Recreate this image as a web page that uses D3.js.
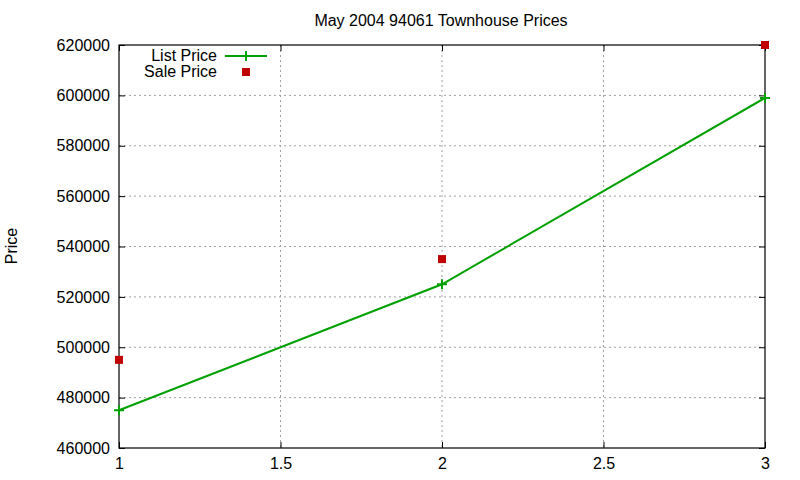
<!DOCTYPE html>
<html>
<head>
<meta charset="utf-8">
<script src="https://cdn.jsdelivr.net/npm/d3@7"></script>
<style>
  body { margin: 0; background: #fff; }
  text { font-family: "Liberation Sans", Arial, sans-serif; font-size: 16px; fill: #000; }
</style>
</head>
<body>
<div id="chart"></div>
<script>
// data
const xVals = [1, 2, 3];
const listPrice = [475000, 525000, 599000];
const salePrice = [495000, 535000, 620000];
const xTicks = [1, 1.5, 2, 2.5, 3];
const yTicks = [460000, 480000, 500000, 520000, 540000, 560000, 580000, 600000, 620000];

const margin = { top: 45, right: 35, bottom: 32, left: 119 };
const W = 800, H = 480;
const width = W - margin.left - margin.right,
    height = H - margin.top - margin.bottom;

const svg = d3.select("#chart").append("svg")
    .attr("width", W)
    .attr("height", H);

const g = svg.append("g")
    .attr("transform", "translate(" + margin.left + "," + margin.top + ")");

const x = d3.scaleLinear().domain([1, 3]).range([0, width]);
const y = d3.scaleLinear().domain([460000, 620000]).range([height, 0]);

// grid
g.selectAll(".ygrid").data(yTicks.slice(1, -1)).enter()
    .append("line")
    .attr("x1", 0).attr("x2", width)
    .attr("y1", d => y(d)).attr("y2", d => y(d))
    .attr("stroke", "#a0a0a0").attr("stroke-dasharray", "2,3");
g.selectAll(".xgrid").data(xTicks.slice(1, -1)).enter()
    .append("line")
    .attr("y1", 0).attr("y2", height)
    .attr("x1", d => x(d)).attr("x2", d => x(d))
    .attr("stroke", "#a0a0a0").attr("stroke-dasharray", "2,3");

// axes (gnuplot style: inward ticks, mirrored)
g.append("g")
    .attr("transform", "translate(0," + height + ")")
    .call(d3.axisBottom(x).tickValues(xTicks).tickSizeInner(-6).tickSizeOuter(0).tickPadding(10).tickFormat(d3.format("")))
    .call(a => a.select(".domain").remove());
g.append("g")
    .call(d3.axisLeft(y).tickValues(yTicks).tickSizeInner(-6).tickSizeOuter(0).tickPadding(9).tickFormat(d3.format("d")))
    .call(a => a.select(".domain").remove());
g.append("g")
    .call(d3.axisTop(x).tickValues(xTicks).tickSizeInner(-6).tickSizeOuter(0).tickFormat(""))
    .call(a => a.select(".domain").remove());
g.append("g")
    .attr("transform", "translate(" + width + ",0)")
    .call(d3.axisRight(y).tickValues(yTicks).tickSizeInner(-6).tickSizeOuter(0).tickFormat(""))
    .call(a => a.select(".domain").remove());
g.selectAll(".tick text").style("font-size", "16px").style("font-family", "Liberation Sans, Arial, sans-serif");

g.append("rect")
    .attr("width", width).attr("height", height)
    .attr("fill", "none").attr("stroke", "#000").attr("stroke-width", 1.2);

// list price line
const line = d3.line().x((d, i) => x(xVals[i])).y(d => y(d));
g.append("path")
    .datum(listPrice)
    .attr("d", line)
    .attr("fill", "none")
    .attr("stroke", "#00a000")
    .attr("stroke-width", 2);

g.selectAll(".plus").data(listPrice).enter()
    .append("path")
    .attr("d", (d, i) => {
        const cx = x(xVals[i]), cy = y(d);
        return "M" + (cx - 5) + "," + cy + "H" + (cx + 5) + "M" + cx + "," + (cy - 5) + "V" + (cy + 5);
    })
    .attr("stroke", "#00a000").attr("stroke-width", 2);

// sale price points
g.selectAll(".sq").data(salePrice).enter()
    .append("rect")
    .attr("x", (d, i) => x(xVals[i]) - 4)
    .attr("y", d => y(d) - 4)
    .attr("width", 8).attr("height", 8)
    .attr("fill", "#c00000");

// legend
const leg = svg.append("g");
leg.append("text").attr("x", 217).attr("y", 61).attr("text-anchor", "end").text("List Price");
leg.append("line").attr("x1", 225).attr("x2", 267).attr("y1", 56).attr("y2", 56)
    .attr("stroke", "#00a000").attr("stroke-width", 2);
leg.append("path").attr("d", "M246,51V61").attr("stroke", "#00a000").attr("stroke-width", 2);
leg.append("text").attr("x", 217).attr("y", 77).attr("text-anchor", "end").text("Sale Price");
leg.append("rect").attr("x", 242).attr("y", 68).attr("width", 8).attr("height", 8).attr("fill", "#c00000");

// title and y label
svg.append("text").attr("x", 441).attr("y", 26).attr("text-anchor", "middle").text("May 2004 94061 Townhouse Prices");
svg.append("text")
    .attr("transform", "translate(17,246) rotate(-90)")
    .attr("text-anchor", "middle")
    .text("Price");
</script>
</body>
</html>
